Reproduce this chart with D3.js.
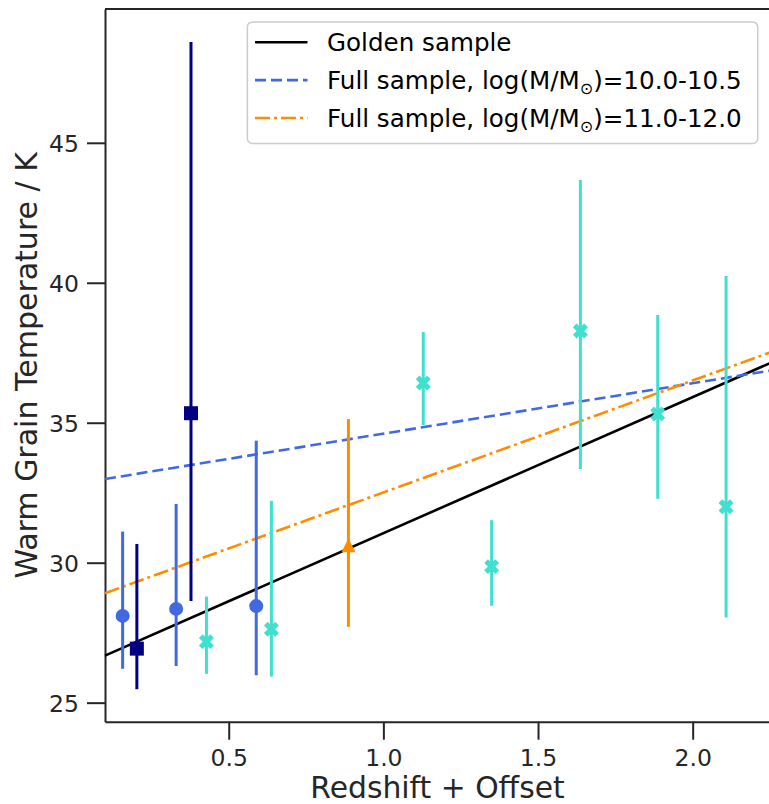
<!DOCTYPE html>
<html>
<head>
<meta charset="utf-8">
<script src="https://cdn.jsdelivr.net/npm/d3@7"></script>
<style>
  body { margin: 0; background: #fff; }
  svg { display: block; font-family: "DejaVu Sans", sans-serif; }
</style>
</head>
<body>
<svg id="grafico" width="769" height="804"></svg>
<script>
// fit lines: value at the left and right edge of the axes
const lineX = [0.1, 2.25];
const goldenFit = [26.68, 37.13];
const lowMassFit = [32.99, 36.86];
const highMassFit = [28.91, 37.51];

// points: x, value, lower end, upper end of error bar
const circX  = [0.157, 0.330, 0.589];
const circY  = [28.10, 28.35, 28.45];
const circLo = [26.21, 26.31, 25.98];
const circHi = [31.11, 32.10, 34.36];

const sqX  = [0.203, 0.378];
const sqY  = [26.93, 35.34];
const sqLo = [25.48, 28.63];
const sqHi = [30.67, 48.60];

const triX  = [0.887];
const triY  = [30.62];
const triLo = [27.71];
const triHi = [35.13];

const crossX  = [0.428, 0.638, 1.129, 1.350, 1.637, 1.887, 2.108];
const crossY  = [27.18, 27.62, 36.42, 29.86, 38.28, 35.31, 32.00];
const crossLo = [26.03, 25.93, 34.92, 28.46, 33.35, 32.28, 28.04];
const crossHi = [28.79, 32.21, 38.24, 31.52, 43.67, 38.85, 40.24];

const xTicks = [0.5, 1.0, 1.5, 2.0];
const yTicks = [25, 30, 35, 40, 45];

const legendLabels = ["Golden sample", "Full sample, log(M/M", "Full sample, log(M/M"];
const legendTails = ["", ")=10.0-10.5", ")=11.0-12.0"];

const svg = d3.select("#grafico");
const axL = 105, axR = 770, axT = 9, axB = 721.7;
const ink = "#262626";

const x = d3.scaleLinear().domain([0.1, 2.25]).range([axL, axR]);
const y = d3.scaleLinear().domain([24.32, 49.78]).range([axB, axT]);

// axes
const gx = svg.append("g").attr("transform", `translate(0,${axB})`)
  .call(d3.axisBottom(x).tickValues(xTicks).tickFormat(d3.format(".1f"))
    .tickSize(18).tickSizeOuter(0).tickPadding(10));
const gy = svg.append("g").attr("transform", `translate(${axL},0)`)
  .call(d3.axisLeft(y).tickValues(yTicks).tickSize(18).tickSizeOuter(0).tickPadding(8));

[gx, gy].forEach(g => {
  g.select(".domain").attr("stroke", ink).attr("stroke-width", 2);
  g.selectAll(".tick line").attr("stroke", ink).attr("stroke-width", 2);
  g.selectAll(".tick text").attr("fill", ink).attr("font-size", 23.5)
    .attr("font-family", "DejaVu Sans");
});
gy.selectAll(".tick text").attr("dy", "0.36em");

svg.append("line")
  .attr("x1", axL).attr("x2", axR).attr("y1", axT).attr("y2", axT)
  .attr("stroke", ink).attr("stroke-width", 2);

svg.append("text")
  .attr("x", (axL + axR) / 2).attr("y", 798)
  .attr("text-anchor", "middle").attr("font-size", 29.8).attr("fill", ink)
  .text("Redshift + Offset");

svg.append("text")
  .attr("transform", `translate(37,${(axT + axB) / 2}) rotate(-90)`)
  .attr("text-anchor", "middle").attr("font-size", 30).attr("fill", ink)
  .text("Warm Grain Temperature / K");

// fit lines
const fits = [
  { v: goldenFit, color: "#000000", dash: null },
  { v: lowMassFit, color: "#4169E1", dash: "11,5" },
  { v: highMassFit, color: "#FF8C00", dash: "15,4,3,4" }
];
const plot = svg.append("g");
plot.selectAll("line.fit")
  .data(fits)
  .join("line")
  .attr("class", "fit")
  .attr("x1", x(lineX[0])).attr("x2", x(lineX[1]))
  .attr("y1", d => y(d.v[0])).attr("y2", d => y(d.v[1]))
  .attr("stroke", d => d.color)
  .attr("stroke-width", 2.6)
  .attr("stroke-dasharray", d => d.dash);

// error bars + markers
const triPath = "M0,-7L7,7L-7,7Z";
const series = [
  { xs: circX, ys: circY, lo: circLo, hi: circHi, color: "#4169E1",
    shape: d3.symbol(d3.symbolCircle, 154)(), rot: 0 },
  { xs: sqX, ys: sqY, lo: sqLo, hi: sqHi, color: "#000080",
    shape: d3.symbol(d3.symbolSquare, 196)(), rot: 0 },
  { xs: triX, ys: triY, lo: triLo, hi: triHi, color: "#FF8C00",
    shape: triPath, rot: 0 },
  { xs: crossX, ys: crossY, lo: crossLo, hi: crossHi, color: "#40E0D0",
    shape: d3.symbol(d3.symbolCross, 140)(), rot: 45 }
];

series.forEach(s => {
  const pts = s.xs.map((v, i) => ({ x: v, y: s.ys[i], lo: s.lo[i], hi: s.hi[i] }));
  const g = plot.append("g");
  g.selectAll("line")
    .data(pts)
    .join("line")
    .attr("x1", d => x(d.x)).attr("x2", d => x(d.x))
    .attr("y1", d => y(d.lo)).attr("y2", d => y(d.hi))
    .attr("stroke", s.color).attr("stroke-width", 3);
  g.selectAll("path")
    .data(pts)
    .join("path")
    .attr("d", s.shape)
    .attr("transform", d => `translate(${x(d.x)},${y(d.y)}) rotate(${s.rot})`)
    .attr("fill", s.color);
});

// legend
const leg = svg.append("g");
leg.append("rect")
  .attr("x", 247.4).attr("y", 21.9).attr("width", 510.3).attr("height", 121.5)
  .attr("rx", 5).attr("fill", "#fff").attr("fill-opacity", 0.8)
  .attr("stroke", "#cccccc").attr("stroke-width", 1.5);

const rows = leg.selectAll("g.row")
  .data(fits)
  .join("g")
  .attr("class", "row")
  .attr("transform", (_, i) => `translate(0,${42.2 + i * 37.9})`);

rows.append("line")
  .attr("x1", 255).attr("x2", 307.5)
  .attr("stroke", d => d.color).attr("stroke-width", 2.6)
  .attr("stroke-dasharray", d => d.dash);

const txt = rows.append("text")
  .attr("x", 327).attr("dy", "0.36em")
  .attr("font-size", 24.6).attr("fill", "#000");
txt.append("tspan").text((_, i) => legendLabels[i]);
txt.filter((_, i) => i > 0).append("tspan")
  .attr("font-size", 16).attr("dy", 5).text("\u2299");
txt.filter((_, i) => i > 0).append("tspan")
  .attr("dy", -5).text((_, i) => legendTails[i + 1]);
</script>
</body>
</html>
